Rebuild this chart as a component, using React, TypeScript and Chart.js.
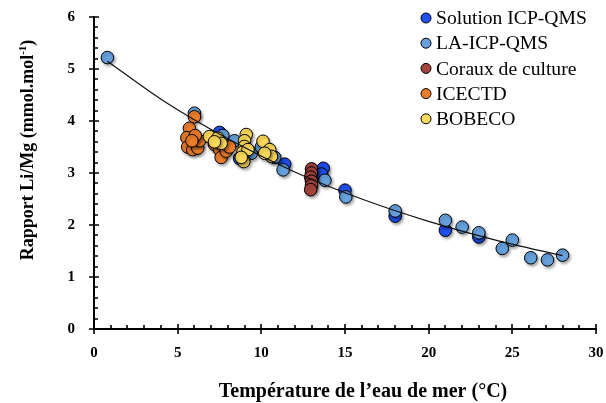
import React, { useEffect, useRef } from "react";
import { Chart, registerables } from "chart.js";

Chart.register(...registerables);

const FONT = "'Liberation Serif', 'Times New Roman', serif";

// Series names and colours
const seriesNames = ["Solution ICP-QMS", "LA-ICP-QMS", "Coraux de culture", "ICECTD", "BOBECO"];
const seriesColors = ["#2150f2", "#66a1dd", "#a4443d", "#eb7d2c", "#fcd95b"];

// Solution ICP-QMS (dark blue)
const solutionT = [7.5, 8.7, 11.4, 13.7, 13.6, 15.0, 18.0, 21.0, 23.0];
const solutionLiMg = [3.78, 3.28, 3.17, 3.09, 2.98, 2.67, 2.17, 1.9, 1.77];

// LA-ICP-QMS (light blue)
const laT = [0.8, 6.0, 7.7, 8.4, 9.4, 10.0, 10.8, 11.3, 13.8, 15.05, 18.0, 21.0, 22.0, 23.0, 24.4, 25.0, 26.1, 27.1, 28.0];
const laLiMg = [5.22, 4.15, 3.72, 3.62, 3.38, 3.5, 3.3, 3.06, 2.86, 2.54, 2.27, 2.09, 1.96, 1.85, 1.55, 1.71, 1.37, 1.33, 1.42];

// Coraux de culture (red)
const corauxT = [13.0, 13.0, 12.95, 13.0, 13.0, 12.95];
const corauxLiMg = [3.08, 3.0, 2.92, 2.84, 2.76, 2.68];

// ICECTD (orange)
const icectdT = [6.0, 5.7, 5.55, 5.6, 5.9, 6.2, 6.3, 6.05, 5.85, 7.2, 7.5, 7.6, 7.9, 8.1, 7.4];
const icectdLiMg = [4.08, 3.86, 3.68, 3.5, 3.45, 3.48, 3.62, 3.72, 3.62, 3.55, 3.45, 3.3, 3.42, 3.5, 3.62];

// BOBECO (yellow)
const bobecoT = [6.9, 7.4, 7.6, 7.2, 9.1, 9.0, 8.99, 8.9, 8.95, 9.2, 10.1, 10.5, 10.6, 10.2, 8.8];
const bobecoLiMg = [3.7, 3.67, 3.57, 3.6, 3.74, 3.62, 3.51, 3.4, 3.22, 3.45, 3.61, 3.45, 3.32, 3.38, 3.3];

// Calibration curve
const fitT = [0.8, 4, 8, 12, 16, 20, 24, 28];
const fitLiMg = [5.15, 4.42, 3.66, 3.02, 2.5, 2.07, 1.71, 1.41];

// Axes
const xMin = 0, xMax = 30, xMajor = 5, xMinor = 1;
const yMin = 0, yMax = 6, yMajor = 1, yMinor = 0.2;

const xTitle = "Température de l\u2019eau de mer (°C)";
const yTitleMain = "Rapport Li/Mg (mmol.mol";
const yTitleSup = "-1";
const yTitleEnd = ")";

const toPoints = (xs: number[], ys: number[]) => xs.map((x, i) => ({ x, y: ys[i] }));

const seriesData = [
  toPoints(solutionT, solutionLiMg),
  toPoints(laT, laLiMg),
  toPoints(corauxT, corauxLiMg),
  toPoints(icectdT, icectdLiMg),
  toPoints(bobecoT, bobecoLiMg),
];
const seriesOrder = [5, 4, 3, 2, 1];

function drawAxes(chart: any) {
  const ctx = chart.ctx;
  const xs = chart.scales.x;
  const ys = chart.scales.y;
  const { left, bottom, right, top } = chart.chartArea;
  ctx.save();
  ctx.shadowColor = "rgba(0,0,0,0)";
  ctx.strokeStyle = "#000";
  ctx.lineWidth = 2;
  ctx.beginPath();
  ctx.moveTo(left, top - 1);
  ctx.lineTo(left, bottom);
  ctx.lineTo(right + 1, bottom);
  ctx.stroke();
  ctx.lineWidth = 1.6;
  ctx.beginPath();
  const nx = Math.round((xMax - xMin) / xMinor);
  for (let i = 0; i <= nx; i++) {
    const v = xMin + i * xMinor;
    const px = Math.round(xs.getPixelForValue(v));
    const isMajor = Math.abs(v / xMajor - Math.round(v / xMajor)) < 1e-6;
    if (isMajor) {
      ctx.moveTo(px, bottom - 5);
      ctx.lineTo(px, bottom + 5);
    } else {
      ctx.moveTo(px, bottom);
      ctx.lineTo(px, bottom - 4);
    }
  }
  const ny = Math.round((yMax - yMin) / yMinor);
  for (let i = 0; i <= ny; i++) {
    const v = yMin + i * yMinor;
    const py = Math.round(ys.getPixelForValue(v));
    const isMajor = Math.abs(v / yMajor - Math.round(v / yMajor)) < 1e-6;
    if (isMajor) {
      ctx.moveTo(left - 5, py);
      ctx.lineTo(left + 5, py);
    } else {
      ctx.moveTo(left, py);
      ctx.lineTo(left + 4, py);
    }
  }
  ctx.stroke();
  ctx.restore();
}

const decorPlugin = {
  id: "decor",
  beforeDatasetDraw(chart: any, args: any) {
    const ds = chart.data.datasets[args.index];
    if (ds.isFit) return;
    const ctx = chart.ctx;
    ctx.save();
    ctx.shadowColor = "rgba(0,0,0,0.35)";
    ctx.shadowBlur = 3;
    ctx.shadowOffsetX = 1.5;
    ctx.shadowOffsetY = 2;
  },
  afterDatasetDraw(chart: any, args: any) {
    const ds = chart.data.datasets[args.index];
    if (ds.isFit) return;
    chart.ctx.restore();
  },
  afterDraw(chart: any) {
    drawAxes(chart);
    const ctx = chart.ctx;
    ctx.save();
    ctx.fillStyle = "#000";
    // x title
    ctx.font = `bold 20px ${FONT}`;
    ctx.textAlign = "center";
    ctx.textBaseline = "alphabetic";
    ctx.fillText(xTitle, 363, 397);
    // y title (rotated)
    ctx.translate(33, 150);
    ctx.rotate(-Math.PI / 2);
    const mainFont = `bold 18px ${FONT}`;
    const supFont = `bold 11px ${FONT}`;
    ctx.font = mainFont;
    const w1 = ctx.measureText(yTitleMain).width;
    const w3 = ctx.measureText(yTitleEnd).width;
    ctx.font = supFont;
    const w2 = ctx.measureText(yTitleSup).width;
    const total = w1 + w2 + w3;
    let cx = -total / 2;
    ctx.textAlign = "left";
    ctx.font = mainFont;
    ctx.fillText(yTitleMain, cx, 0);
    cx += w1;
    ctx.font = supFont;
    ctx.fillText(yTitleSup, cx, -7);
    cx += w2;
    ctx.font = mainFont;
    ctx.fillText(yTitleEnd, cx, 0);
    ctx.restore();

    // legend
    ctx.save();
    ctx.font = `19.6px ${FONT}`;
    ctx.textAlign = "left";
    ctx.textBaseline = "middle";
    seriesNames.forEach((name, i) => {
      const y = 18 + i * 25.2;
      ctx.beginPath();
      ctx.arc(426, y, 5, 0, Math.PI * 2);
      ctx.fillStyle = seriesColors[i];
      ctx.fill();
      ctx.lineWidth = 1;
      ctx.strokeStyle = "#000";
      ctx.stroke();
      ctx.fillStyle = "#000";
      ctx.fillText(name, 436, y + 1);
    });
    ctx.restore();
  },
};

export default function App() {
  const ref = useRef<HTMLCanvasElement | null>(null);

  useEffect(() => {
    document.body.style.margin = "0";
    const canvas = ref.current;
    if (!canvas) return;
    const datasets: any[] = seriesData.map((data, i) => ({
      type: "scatter",
      label: seriesNames[i],
      data,
      backgroundColor: seriesColors[i],
      borderColor: "#000",
      borderWidth: 1,
      pointRadius: 6.3,
      pointHoverRadius: 6.3,
      order: seriesOrder[i],
    }));
    datasets.push({
      type: "line",
      label: "fit",
      isFit: true,
      data: toPoints(fitT, fitLiMg),
      borderColor: "#111",
      borderWidth: 1.2,
      pointRadius: 0,
      fill: false,
      cubicInterpolationMode: "monotone",
      order: 0,
    });

    const chart = new Chart(canvas, {
      type: "scatter",
      data: { datasets },
      options: {
        responsive: false,
        animation: false,
        layout: { padding: { top: 17, right: 10, left: 0, bottom: 0 } },
        plugins: {
          legend: { display: false },
          tooltip: { enabled: false },
        },
        scales: {
          x: {
            type: "linear",
            min: xMin,
            max: xMax,
            grid: { display: false, drawTicks: false },
            border: { display: false },
            ticks: {
              stepSize: xMajor,
              padding: 15,
              color: "#000",
              font: { family: FONT, size: 15, weight: "bold" },
            },
            afterFit(scale: any) {
              scale.height = 74;
              scale.paddingLeft = 0;
              scale.paddingRight = 0;
            },
          },
          y: {
            type: "linear",
            min: yMin,
            max: yMax,
            grid: { display: false, drawTicks: false },
            border: { display: false },
            ticks: {
              stepSize: yMajor,
              padding: 19,
              color: "#000",
              font: { family: FONT, size: 15, weight: "bold" },
            },
            afterFit(scale: any) {
              scale.width = 94;
              scale.paddingTop = 0;
              scale.paddingBottom = 0;
            },
          },
        },
      } as any,
      plugins: [decorPlugin as any],
    });
    return () => chart.destroy();
  }, []);

  return (
    <div style={{ width: 606, height: 403, background: "#fff" }}>
      <canvas ref={ref} width={606} height={403} style={{ display: "block" }} />
    </div>
  );
}
